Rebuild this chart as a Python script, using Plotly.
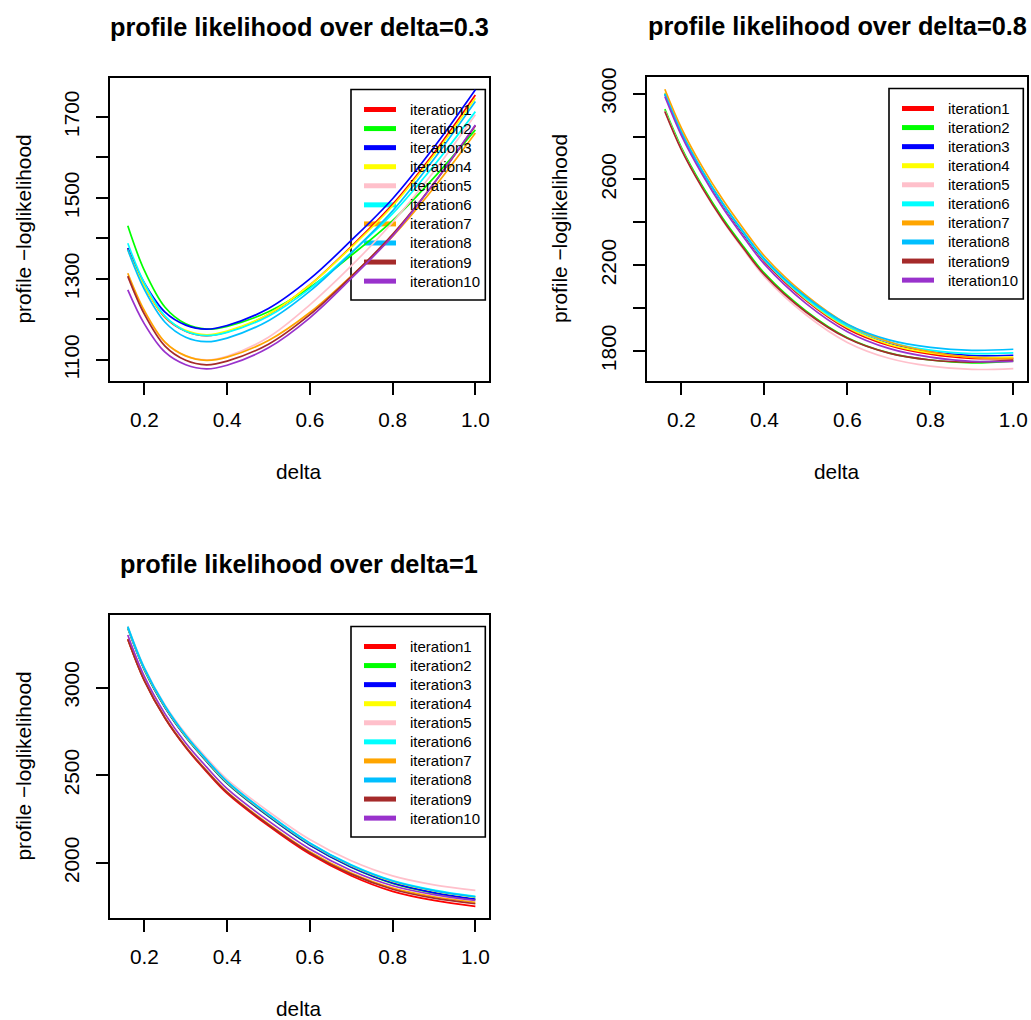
import plotly.graph_objects as go

DELTA = [0.16, 0.2, 0.25, 0.3, 0.35, 0.4, 0.5, 0.6, 0.7, 0.8, 0.9, 1.0]
NAMES = ["iteration%d" % i for i in range(1, 11)]
COLORS = ["#FF0000", "#00FF00", "#0000FF", "#FFFF00", "#FFC0CB",
          "#00FFFF", "#FFA500", "#00BFFF", "#A52A2A", "#9932CC"]

# panel 1: profile likelihood over delta=0.3
P1 = [
    [1376, 1283, 1205, 1171, 1160, 1169, 1212, 1285, 1380, 1484, 1611, 1754],
    [1431, 1321, 1230, 1189, 1176, 1183, 1219, 1279, 1358, 1444, 1550, 1668],
    [1376, 1290, 1218, 1186, 1176, 1185, 1227, 1300, 1395, 1498, 1625, 1767],
    [1372, 1282, 1206, 1173, 1162, 1171, 1213, 1285, 1378, 1480, 1606, 1746],
    [1305, 1217, 1143, 1110, 1100, 1109, 1156, 1236, 1332, 1440, 1565, 1705],
    [1388, 1290, 1208, 1171, 1160, 1168, 1208, 1276, 1365, 1461, 1580, 1713],
    [1314, 1222, 1144, 1110, 1099, 1107, 1148, 1217, 1307, 1405, 1525, 1660],
    [1372, 1274, 1193, 1156, 1145, 1154, 1197, 1270, 1364, 1468, 1596, 1738],
    [1307, 1213, 1134, 1099, 1088, 1097, 1139, 1212, 1306, 1410, 1536, 1678],
    [1273, 1189, 1119, 1088, 1078, 1087, 1130, 1204, 1301, 1406, 1536, 1680],
]
# panel 2: profile likelihood over delta=0.8
P2 = [
    [3000, 2818, 2637, 2481, 2344, 2218, 2036, 1903, 1826, 1785, 1766, 1766],
    [2928, 2749, 2571, 2418, 2286, 2163, 1987, 1862, 1791, 1758, 1745, 1753],
    [3000, 2819, 2638, 2483, 2347, 2222, 2041, 1910, 1834, 1796, 1778, 1780],
    [3005, 2823, 2642, 2486, 2350, 2223, 2041, 1909, 1831, 1791, 1771, 1772],
    [2920, 2740, 2560, 2406, 2272, 2147, 1969, 1840, 1766, 1729, 1714, 1718],
    [3000, 2819, 2639, 2485, 2350, 2225, 2046, 1916, 1842, 1804, 1788, 1791],
    [3021, 2840, 2660, 2505, 2369, 2243, 2060, 1925, 1843, 1796, 1770, 1764],
    [3000, 2820, 2641, 2488, 2354, 2230, 2053, 1925, 1852, 1817, 1803, 1808],
    [2917, 2738, 2562, 2410, 2278, 2156, 1982, 1859, 1790, 1758, 1748, 1757],
    [2987, 2805, 2624, 2467, 2331, 2205, 2022, 1890, 1812, 1771, 1752, 1752],
]
# panel 3: profile likelihood over delta=1
P3 = [
    [3275, 3039, 2825, 2659, 2521, 2397, 2212, 2051, 1928, 1839, 1787, 1753],
    [3339, 3101, 2886, 2718, 2580, 2454, 2266, 2102, 1976, 1884, 1829, 1792],
    [3339, 3102, 2886, 2719, 2580, 2455, 2267, 2103, 1978, 1887, 1832, 1795],
    [3342, 3105, 2890, 2723, 2585, 2460, 2273, 2110, 1985, 1895, 1841, 1805],
    [3350, 3115, 2901, 2736, 2600, 2477, 2294, 2134, 2013, 1927, 1876, 1844],
    [3347, 3110, 2895, 2728, 2590, 2465, 2278, 2115, 1990, 1900, 1846, 1810],
    [3277, 3042, 2829, 2664, 2528, 2405, 2223, 2064, 1943, 1857, 1808, 1776],
    [3345, 3109, 2894, 2727, 2589, 2464, 2277, 2113, 1988, 1898, 1843, 1807],
    [3275, 3039, 2826, 2661, 2525, 2402, 2218, 2059, 1937, 1851, 1800, 1768],
    [3299, 3063, 2850, 2684, 2548, 2424, 2240, 2080, 1958, 1871, 1820, 1787],
]

TITLES = ["profile likelihood over delta=0.3",
          "profile likelihood over delta=0.8",
          "profile likelihood over delta=1"]
XLAB = "delta"
YLAB = "profile \u2212loglikelihood"
XTICKS = [0.2, 0.4, 0.6, 0.8, 1.0]
XTICKTEXT = ["0.2", "0.4", "0.6", "0.8", "1.0"]
Y1_TICKS = [1100, 1200, 1300, 1400, 1500, 1600, 1700]
Y1_TEXT = ["1100", "", "1300", "", "1500", "", "1700"]
Y2_TICKS = [1800, 2000, 2200, 2400, 2600, 2800, 3000]
Y2_TEXT = ["1800", "", "2200", "", "2600", "", "3000"]
Y3_TICKS = [2000, 2500, 3000]
Y3_TEXT = ["2000", "2500", "3000"]

FONT = "Liberation Sans, Arial, Helvetica, sans-serif"
W, H = 1031, 1020

fig = go.Figure()

panels = [(P1, "x", "y"), (P2, "x2", "y2"), (P3, "x3", "y3")]
for data, xa, ya in panels:
    for name, col, vals in zip(NAMES, COLORS, data):
        fig.add_trace(go.Scatter(x=DELTA, y=vals, mode="lines", xaxis=xa, yaxis=ya, name=name,
                                 line=dict(color=col, width=1.7, shape="spline", smoothing=1.0),
                                 showlegend=False, hoverinfo="skip"))


def px_x(p):
    return p / W


def px_y(p):
    return 1 - p / H


axis_common = dict(showgrid=False, zeroline=False, showline=True, linecolor="black",
                   linewidth=1.7, mirror=True, ticks="outside", ticklen=12, tickwidth=1.7,
                   tickcolor="black", automargin=False,
                   tickfont=dict(family=FONT, size=20.8, color="black"))

boxes = {
    "1": (110, 489, 78, 381),
    "2": (647, 1027, 77, 381),
    "3": (110, 489, 615, 918),
}
yr = {"1": [1048, 1796], "2": [1660, 3078], "3": [1687, 3413]}
ytk = {"1": (Y1_TICKS, Y1_TEXT), "2": (Y2_TICKS, Y2_TEXT), "3": (Y3_TICKS, Y3_TEXT)}

layout = dict(width=W, height=H, autosize=False,
              margin=dict(l=0, r=0, t=0, b=0, pad=0, autoexpand=False),
              paper_bgcolor="white", plot_bgcolor="rgba(0,0,0,0)", showlegend=False,
              font=dict(family=FONT, color="black"))
for k, (l, r, t, b) in boxes.items():
    sx = "" if k == "1" else k
    layout["xaxis" + sx] = dict(axis_common, domain=[px_x(l), px_x(r)], anchor="y" + sx,
                                range=[0.117, 1.033], tickvals=XTICKS, ticktext=XTICKTEXT,
                                ticklabelstandoff=7)
    layout["yaxis" + sx] = dict(axis_common, domain=[px_y(b), px_y(t)], anchor="x" + sx,
                                range=yr[k], tickvals=ytk[k][0], ticktext=ytk[k][1],
                                tickangle=-90, ticklabelstandoff=9)

annotations = []
shapes = []
for k, (l, r, t, b) in boxes.items():
    cx = (l + r) / 2
    title = TITLES[int(k) - 1]
    annotations.append(dict(text="<b>%s</b>" % title, x=px_x(cx), y=px_y(t - 51),
                            xref="paper", yref="paper", showarrow=False,
                            xanchor="center", yanchor="middle",
                            font=dict(family=FONT, size=25.3, color="black")))
    annotations.append(dict(text=XLAB, x=px_x(cx), y=px_y(b + 90), xref="paper", yref="paper",
                            showarrow=False, xanchor="center", yanchor="middle",
                            font=dict(family=FONT, size=20.8, color="black")))
    annotations.append(dict(text=YLAB, x=px_x(l - 87), y=px_y((t + b) / 2), xref="paper",
                            yref="paper", showarrow=False, xanchor="center", yanchor="middle",
                            textangle=-90, font=dict(family=FONT, size=20.8, color="black")))
    # legend box (drawn beneath the curves, as in the reference)
    LR = r - 3.7
    LL = LR - 134.3
    LT = t + 11.5
    LB = LT + 210.5
    shapes.append(dict(type="rect", xref="paper", yref="paper", layer="below",
                       x0=px_x(LL), x1=px_x(LR), y0=px_y(LB), y1=px_y(LT),
                       line=dict(color="black", width=1.6), fillcolor="rgba(0,0,0,0)"))
    for i, (name, col) in enumerate(zip(NAMES, COLORS)):
        yy = LT + 20 + i * 19.07
        shapes.append(dict(type="line", xref="paper", yref="paper", layer="below",
                           x0=px_x(LL + 13), x1=px_x(LL + 45), y0=px_y(yy), y1=px_y(yy),
                           line=dict(color=col, width=5)))
        annotations.append(dict(text=name, x=px_x(LL + 57), y=px_y(yy), xref="paper",
                                yref="paper", showarrow=False, xanchor="left",
                                yanchor="middle",
                                font=dict(family=FONT, size=15, color="black")))
layout["annotations"] = annotations
layout["shapes"] = shapes

fig.update_layout(**layout)
fig.write_html("out.html", config={"displayModeBar": False},
               post_script="document.body.style.margin='0';document.body.style.overflow='hidden';")
